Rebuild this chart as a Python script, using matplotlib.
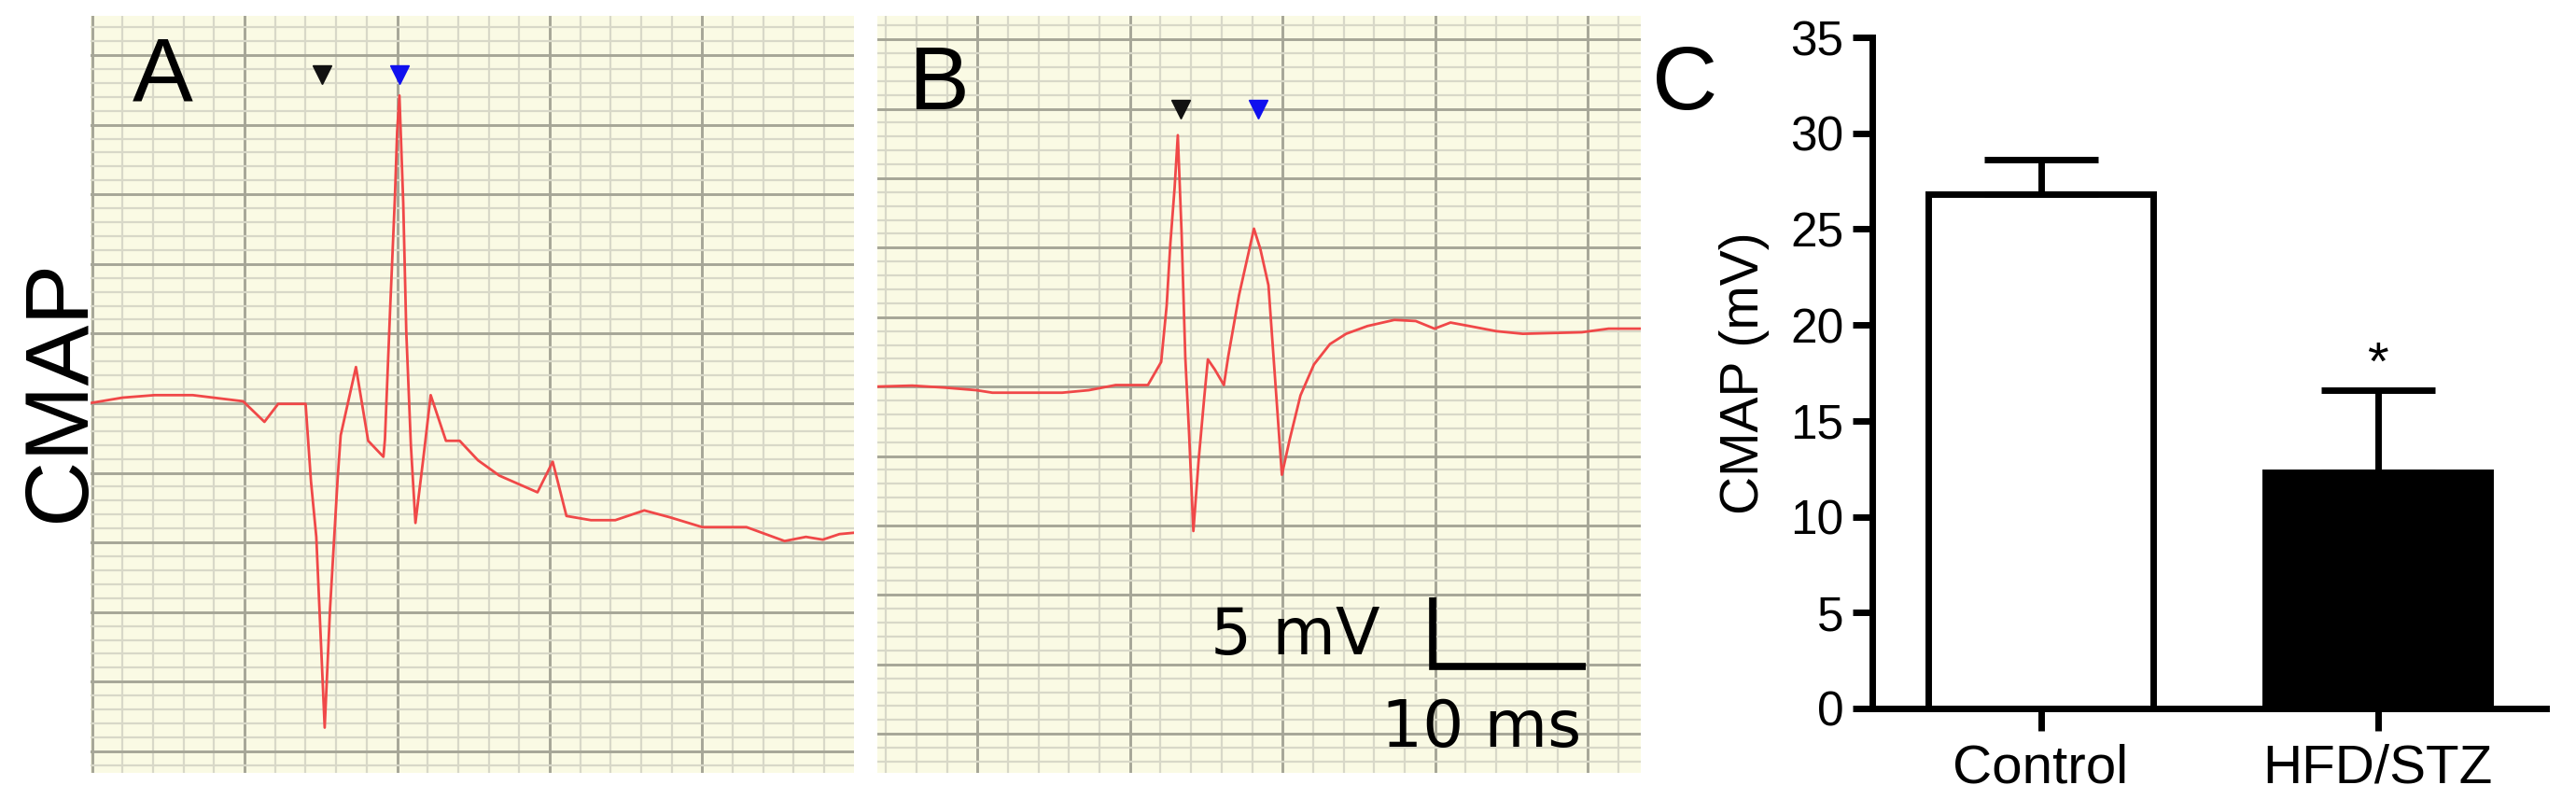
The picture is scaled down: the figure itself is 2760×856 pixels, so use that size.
import matplotlib
matplotlib.use('Agg')
from matplotlib import pyplot as plt
from matplotlib.ticker import MultipleLocator

plt.rcParams['font.family'] = ['Liberation Sans', 'DejaVu Sans']

# trace A (control), time in ms, amplitude in mV
a_time = [0, 2.0, 4.1, 6.6, 9.9, 11.3, 12.2, 14.0, 14.35, 14.7, 15.25, 15.6, 16.1,
          16.3, 17.3, 18.1, 19.1, 19.2, 19.55, 19.85, 20.0, 20.15, 20.4, 20.6, 20.9,
          21.2, 21.7, 22.2, 23.2, 24.1, 25.3, 26.7, 29.2, 30.2, 31.1, 32.7, 34.3,
          36.2, 37.9, 40.0, 42.9, 45.4, 46.8, 47.9, 49.0, 50.0]
a_mv = [0.03, 0.4, 0.58, 0.58, 0.14, -1.34, -0.05, -0.05, -5.6, -9.6, -23.3, -14.8,
        -5.4, -2.3, 2.6, -2.7, -3.85, -2.6, 7.0, 14.7, 19.5, 22.1, 14.4, 5.1, -3.0,
        -8.6, -4.1, 0.58, -2.7, -2.7, -4.1, -5.2, -6.4, -4.2, -8.1, -8.4, -8.4,
        -7.7, -8.2, -8.9, -8.9, -9.9, -9.6, -9.8, -9.4, -9.3]
a_marks = [15.05, 20.16]
a_mark_mv = 23.6

# trace B (HFD/STZ)
b_time = [3.44, 5.72, 7.82, 9.93, 10.98, 15.55, 17.3, 19.06, 21.17, 22.04, 22.4,
          22.64, 22.92, 23.13, 23.38, 23.62, 23.87, 24.15, 24.5, 24.86, 25.1, 25.56,
          26.15, 26.43, 27.14, 28.12, 28.54, 29.07, 29.95, 30.47, 31.17, 32.05,
          33.1, 34.16, 35.56, 37.32, 38.72, 39.95, 41.0, 42.23, 43.99, 45.74, 49.6,
          51.36, 53.47]
b_mv = [0, 0.07, -0.07, -0.26, -0.44, -0.44, -0.26, 0.11, 0.11, 1.77, 5.83, 10.26,
        14.3, 18.1, 11.0, 2.14, -3.4, -10.4, -5.24, -0.81, 1.96, 1.22, 0.11, 2.14,
        6.57, 11.37, 9.9, 7.3, -6.35, -3.77, -0.63, 1.59, 3.06, 3.8, 4.36, 4.8,
        4.72, 4.17, 4.61, 4.36, 3.99, 3.8, 3.91, 4.17, 4.17]
b_marks = [23.3, 28.4]
b_mark_mv = 20.0

# scale bar
bar_ms = 10
bar_mv = 5

# panel C
groups = ['Control', 'HFD/STZ']
cmap_mean = [26.8, 12.3]
cmap_sem = [1.8, 4.3]
cmap_ticks = [0, 5, 10, 15, 20, 25, 30, 35]

W, H = 2760, 856
PAPER = '#fafae4'
MINOR = '#d8d8c8'
MAJOR = '#a6a697'
TRACE = '#f04848'


def px_axes(fig, left, top, right, bottom):
    return fig.add_axes([left / W, 1 - bottom / H, (right - left) / W, (bottom - top) / H])


def ecg_paper(ax, xlim, ylim):
    ax.set_facecolor(PAPER)
    ax.set_xlim(*xlim)
    ax.set_ylim(*ylim)
    ax.xaxis.set_major_locator(MultipleLocator(10))
    ax.xaxis.set_minor_locator(MultipleLocator(2))
    ax.yaxis.set_major_locator(MultipleLocator(5))
    ax.yaxis.set_minor_locator(MultipleLocator(1))
    ax.grid(which='minor', color=MINOR, lw=1.6)
    ax.grid(which='major', color=MAJOR, lw=2.1)
    ax.set_axisbelow(True)
    ax.tick_params(which='both', length=0, labelbottom=False, labelleft=False)
    for s in ax.spines.values():
        s.set_visible(False)


fig = plt.figure(figsize=(W / 100, H / 100), dpi=100)

ax_a = px_axes(fig, 97, 17, 915, 828)
ecg_paper(ax_a, (-0.1, 49.95), (-26.55, 27.82))
ax_a.plot(a_time, a_mv, color=TRACE, lw=2.0)
ax_a.plot(a_marks[0], a_mark_mv, 'v', color='#111111', ms=14)
ax_a.plot(a_marks[1], a_mark_mv, 'v', color='#1010ee', ms=14)

ax_b = px_axes(fig, 940, 17, 1758, 828)
ecg_paper(ax_b, (3.44, 53.47), (-27.81, 26.69))
ax_b.plot(b_time, b_mv, color=TRACE, lw=2.0)
ax_b.plot(b_marks[0], b_mark_mv, 'v', color='#111111', ms=14)
ax_b.plot(b_marks[1], b_mark_mv, 'v', color='#1010ee', ms=14)

# scale bar
x0, y0 = 39.85, -20.15
ax_b.plot([x0, x0, x0 + bar_ms], [y0 + bar_mv, y0, y0], color='black', lw=5.5,
          solid_joinstyle='miter', solid_capstyle='butt')
ax_b.text(30.8, -19.3, f'{bar_mv} mV', ha='center', va='baseline', fontsize=50,
          family='DejaVu Sans')
ax_b.text(43.0, -25.9, f'{bar_ms} ms', ha='center', va='baseline', fontsize=50,
          family='DejaVu Sans')

# bar chart
ax_c = px_axes(fig, 2006, 40, 2728, 759)
x = [0, 1]
ax_c.bar(x, cmap_mean, width=0.667, color=['white', 'black'], edgecolor='black',
         linewidth=5, zorder=2)
ax_c.errorbar(x, cmap_mean, yerr=[[0, 0], cmap_sem], fmt='none', ecolor='black',
              elinewidth=5, capsize=44, capthick=5, zorder=3)
ax_c.text(1, cmap_mean[1] + cmap_sem[1] + 0.55, '*', ha='center', va='baseline',
          fontsize=42)
ax_c.set_xlim(-0.5, 1.5)
ax_c.set_ylim(0, 35)
ax_c.set_yticks(cmap_ticks)
ax_c.set_xticks(x)
ax_c.set_xticklabels(groups)
ax_c.spines['top'].set_visible(False)
ax_c.spines['right'].set_visible(False)
ax_c.spines['left'].set_linewidth(5)
ax_c.spines['bottom'].set_linewidth(5)
ax_c.tick_params(axis='y', length=15, width=5, pad=7, labelsize=37)
ax_c.tick_params(axis='x', length=17, width=5, pad=10, labelsize=42)
ax_c.set_ylabel('CMAP (mV)', fontsize=41)
ax_c.yaxis.set_label_coords(-0.153, 0.5)

# panel letters and row label
fig.text(142 / W, 1 - 108 / H, 'A', fontsize=70, ha='left', va='baseline')
fig.text(974 / W, 1 - 117 / H, 'B', fontsize=70, ha='left', va='baseline')
fig.text(1770 / W, 1 - 117 / H, 'C', fontsize=70, ha='left', va='baseline')
fig.text(90 / W, 1 - 418 / H, 'CMAP', fontsize=70, rotation=90, ha='center',
         va='baseline', rotation_mode='anchor')

fig.savefig('out.png', dpi=100)
